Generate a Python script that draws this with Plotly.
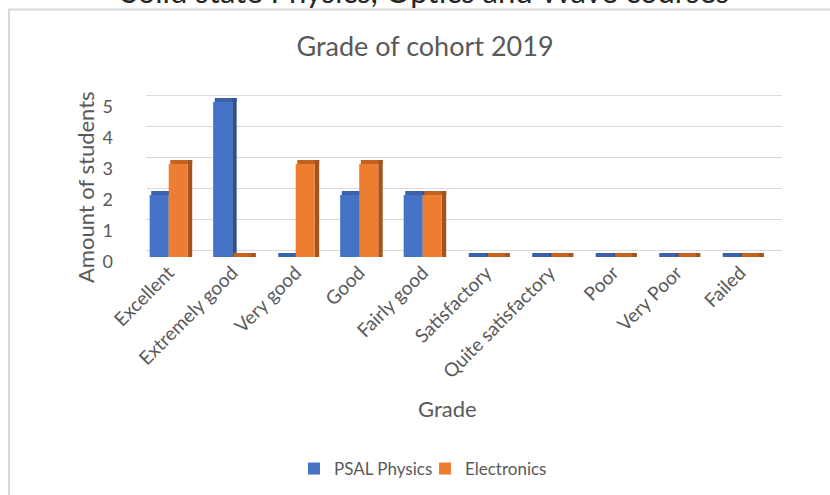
import plotly.graph_objects as go

# ---- data ----
categories = ["Excellent", "Extremely good", "Very good", "Good", "Fairly good",
              "Satisfactory", "Quite satisfactory", "Poor", "Very Poor", "Failed"]
psal_physics = [2, 5, 0, 2, 2, 0, 0, 0, 0, 0]
electronics = [3, 0, 3, 3, 2, 0, 0, 0, 0, 0]
y_ticks = [0, 1, 2, 3, 4, 5]

page_title = "Solid state Physics, Optics and Wave courses"
chart_title = "Grade of cohort 2019"
x_title = "Grade"
y_title = "Amount of students"

# ---- layout geometry (window pixels) ----
W, H = 830, 495
PLOT_X0, PLOT_X1 = 146, 782        # back-wall extent (gridlines)
PLOT_Y0, PLOT_Y1 = 92, 270         # plot area incl. room for shifted labels
BASE_Y = 257                       # pixel of value 0 on the bar front faces
PX_PER_UNIT = 31.0                 # vertical pixels per student
CAT_PX = 63.5                      # horizontal pixels per category
FIRST_CAT_X = 168.7                # pixel of the first category centre
GRID_SHIFT = 7                     # back-wall gridlines sit higher
LABEL_SHIFT = -5                   # tick labels sit lower

L = PLOT_X0
R = W - PLOT_X1
T = PLOT_Y0
B = H - PLOT_Y1
PW = PLOT_X1 - PLOT_X0
PH = PLOT_Y1 - PLOT_Y0


def fx(px):
    return (px - PLOT_X0) / PW


def fy(py):
    return (PLOT_Y1 - py) / PH


def yrange(zero_px):
    lo = -(PLOT_Y1 - zero_px) / PX_PER_UNIT
    return [lo, lo + PH / PX_PER_UNIT]


x_lo = -(FIRST_CAT_X - PLOT_X0) / CAT_PX
x_range = [x_lo, x_lo + PW / CAT_PX]

GREY = "#595959"
FONT = "Lato"
CAP = 0.13  # depth of the pseudo-3D top face (in value units)

series = [
    ("PSAL Physics", psal_physics, "#4472C4", "#2E5090", "#3A62AC", -0.3),
    ("Electronics", electronics, "#ED7D31", "#A3531D", "#C4621E", 0.0),
]

fig = go.Figure()

# invisible helper traces so the gridline axis (y) and label axis (y3) render
for ax in ("y", "y3"):
    fig.add_scatter(x=[categories[0]] * len(y_ticks), y=y_ticks, yaxis=ax,
                    mode="markers", marker=dict(size=1, opacity=0),
                    showlegend=False, hoverinfo="skip")

for name, vals, front, side, top, off in series:
    # top face
    fig.add_bar(x=categories, y=[CAP] * len(vals), base=vals, offset=off + 0.025,
                width=0.3 + 0.045, marker_color=top, marker_line_width=0,
                showlegend=False, hoverinfo="skip", yaxis="y2")
    # side face
    fig.add_bar(x=categories, y=[v + CAP for v in vals], offset=off + 0.3,
                width=0.07, marker_color=side, marker_line_width=0,
                showlegend=False, hoverinfo="skip", yaxis="y2")
    # front face
    fig.add_bar(x=categories, y=vals, offset=off, width=0.3, name=name,
                marker_color=front, marker_line_width=0, yaxis="y2")

fig.update_layout(
    width=W, height=H,
    margin=dict(l=L, r=R, t=T, b=B, autoexpand=False),
    paper_bgcolor="white", plot_bgcolor="rgba(0,0,0,0)",
    barmode="overlay",
    font=dict(family=FONT, color=GREY),
    title=dict(text=chart_title, x=425 / W, xanchor="center",
               y=1 - 47 / H, yanchor="middle", yref="container",
               font=dict(size=27, color=GREY, family=FONT)),
    legend=dict(orientation="h", x=fx(425), xanchor="center",
                y=fy(451), yanchor="top", font=dict(size=17, color=GREY),
                traceorder="normal", entrywidth=86, entrywidthmode="pixels"),
    showlegend=True,
    xaxis=dict(
        type="category", categoryorder="array", categoryarray=categories,
        tickangle=-45, tickfont=dict(size=19, color=GREY),
        showgrid=False, showline=False, zeroline=False, ticks="",
        range=x_range, anchor="free", position=fy(BASE_Y),
    ),
    # back-wall gridlines (base axis, drawn beneath the bars)
    yaxis=dict(
        range=yrange(BASE_Y - GRID_SHIFT), tickvals=y_ticks,
        showgrid=True, gridcolor="#D9D9D9", gridwidth=1,
        zeroline=False, showticklabels=False, showline=False, ticks="",
    ),
    # axis carrying the bars (front faces)
    yaxis2=dict(
        overlaying="y", range=yrange(BASE_Y), showgrid=False, zeroline=False,
        showticklabels=False, showline=False, ticks="",
    ),
    # tick labels
    yaxis3=dict(
        overlaying="y", range=yrange(BASE_Y - LABEL_SHIFT), tickvals=y_ticks,
        showgrid=False, zeroline=False, showline=False, ticks="",
        tickfont=dict(size=18, color=GREY), ticklabelstandoff=32,
    ),
)

fig.add_annotation(text=y_title, textangle=-90, x=fx(85), y=fy(187),
                   xref="paper", yref="paper", xanchor="center", yanchor="middle",
                   showarrow=False, font=dict(size=22, color=GREY))
fig.add_annotation(text=x_title, x=fx(447), y=fy(408),
                   xref="paper", yref="paper", xanchor="center", yanchor="middle",
                   showarrow=False, font=dict(size=22, color=GREY))
fig.add_annotation(text=page_title, x=fx(425), y=fy(-9),
                   xref="paper", yref="paper", xanchor="center", yanchor="middle",
                   showarrow=False, font=dict(size=31, color="#262626"))

# chart-area border
fig.add_shape(type="rect", xref="paper", yref="paper",
              x0=fx(9), y0=fy(9.5), x1=fx(W + 40), y1=fy(H + 40),
              line=dict(color="#D9D9D9", width=2), fillcolor="rgba(0,0,0,0)",
              layer="below")

fig.write_html(
    "out.html",
    config={"displayModeBar": False},
    post_script="document.body.style.margin='0';document.body.style.overflow='hidden';",
)
